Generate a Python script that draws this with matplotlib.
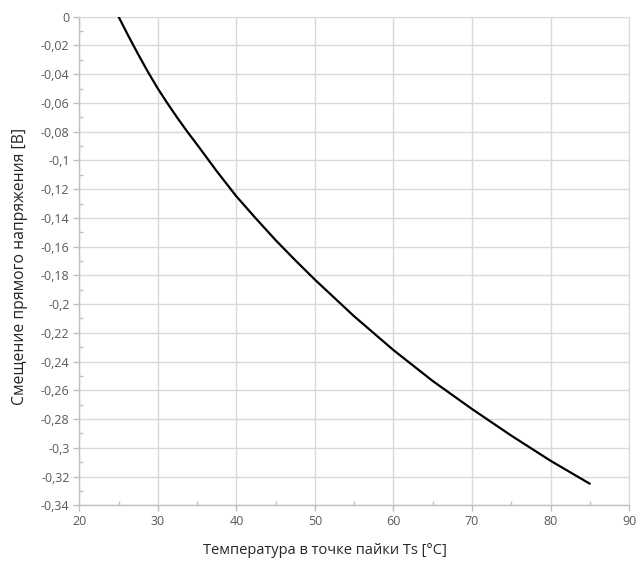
import numpy as np
import matplotlib
matplotlib.use("Agg")
import matplotlib.pyplot as plt
from matplotlib.ticker import MultipleLocator, FuncFormatter

plt.rcParams['font.family'] = ['Open Sans', 'DejaVu Sans']

# solder point temperature [°C] vs forward voltage shift [V]
temp_c = [25, 26.25, 27.5, 28.75, 30, 31.25, 32.5, 33.75, 35, 37.5, 40,
          42.5, 45, 47.5, 50, 55, 60, 65, 70, 75, 80, 85]
dv_volt = [0.0, -0.0134, -0.0262, -0.0385, -0.050, -0.0605, -0.0705,
           -0.0800, -0.089, -0.1075, -0.125, -0.1405, -0.1555, -0.1695,
           -0.183, -0.2085, -0.232, -0.2535, -0.273, -0.2915, -0.309, -0.325]

x_label = "Температура в точке пайки Ts [°C]"
y_label = "Смещение прямого напряжения [B]"

grid_col = "#d9d9d9"
tick_col = "#595959"


def comma_fmt(v, pos):
    v = round(v, 4)
    if v == 0:
        return "0"
    return f"{v:g}".replace(".", ",")


fig = plt.figure(figsize=(6.38, 5.63), dpi=100)
ax = fig.add_axes([0.1243, 0.1025, 0.8617, 0.8678])

ax.plot(temp_c, dv_volt, color="black", lw=1.6, solid_capstyle="round",
        solid_joinstyle="round", zorder=3)

ax.set_xlim(20, 90)
ax.set_ylim(-0.34, 0)
ax.xaxis.set_major_locator(MultipleLocator(10))
ax.xaxis.set_minor_locator(MultipleLocator(5))
ax.yaxis.set_major_locator(MultipleLocator(0.02))
ax.yaxis.set_minor_locator(MultipleLocator(0.01))
ax.yaxis.set_major_formatter(FuncFormatter(comma_fmt))

ax.grid(True, which="major", color=grid_col, lw=1.0, zorder=0)
ax.set_axisbelow(True)

for side in ("top", "right"):
    ax.spines[side].set_color(grid_col)
for side in ("left", "bottom"):
    ax.spines[side].set_color("#bfbfbf")
    ax.spines[side].set_linewidth(1.0)

ax.tick_params(which="major", direction="out", length=4, width=1.0,
               color="#bfbfbf", labelsize=9, labelcolor=tick_col, pad=3)
ax.tick_params(which="minor", direction="in", length=3, width=1.0,
               color="#bfbfbf")

fig.text(325 / 638, 1 - 550 / 563, x_label, ha="center", va="center",
         fontsize=10.5, color="#262626")
fig.text(20 / 638, 1 - 266 / 563, y_label, ha="center", va="center",
         rotation=90, fontsize=11.3, color="#262626")

fig.savefig("out.png", dpi=100, facecolor="white")
